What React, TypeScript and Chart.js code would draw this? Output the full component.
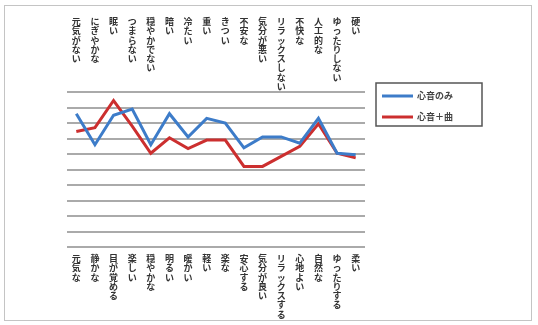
import React, { useEffect, useRef } from "react";
import { Chart, registerables } from "chart.js";
Chart.register(...registerables);

const topLabels = ["元気がない","にぎやかな","眠い","つまらない","穏やかでない","暗い","冷たい","重い","きつい","不安な","気分が悪い","リラックスしない","不快な","人工的な","ゆったりしない","硬い"];
const bottomLabels = ["元気な","静かな","目が覚める","楽しい","穏やかな","明るい","暖かい","軽い","楽な","安心する","気分が良い","リラックスする","心地よい","自然な","ゆったりする","柔い"];
const seriesNames = ["心音のみ","心音＋曲"];
const heartOnly = [8.6, 6.6, 8.5, 8.9, 6.6, 8.6, 7.1, 8.3, 8.0, 6.4, 7.1, 7.1, 6.7, 8.3, 6.05, 5.95];
const heartMusic = [7.45, 7.7, 9.45, 7.8, 6.05, 7.05, 6.35, 6.9, 6.9, 5.2, 5.2, 5.85, 6.5, 7.95, 6.05, 5.75];
const seriesColors = ["#3d7cc9", "#cc2f2f"];

const FONT = '"Noto Sans CJK JP", "Noto Sans", sans-serif';

const verticalLabels = {
  id: "verticalLabels",
  afterDraw(chart: any) {
    const ctx = chart.ctx;
    const xs = chart.scales.x;
    ctx.save();
    ctx.fillStyle = "#333";
    ctx.font = `bold 9px ${FONT}`;
    ctx.textAlign = "center";
    ctx.textBaseline = "top";
    const step = 9.3;
    topLabels.forEach((lab, i) => {
      const x = xs.getPixelForValue(i);
      Array.from(lab).forEach((ch, k) => ctx.fillText(ch, x, 17 + k * step));
    });
    const yb = chart.chartArea.bottom + 7;
    bottomLabels.forEach((lab, i) => {
      const x = xs.getPixelForValue(i);
      Array.from(lab).forEach((ch, k) => ctx.fillText(ch, x, yb + k * step));
    });
    ctx.restore();
  },
};

const boxLegend = {
  id: "boxLegend",
  afterDraw(chart: any) {
    const ctx = chart.ctx;
    ctx.save();
    ctx.strokeStyle = "#c4c4c4";
    ctx.lineWidth = 1;
    ctx.strokeRect(4.5, 5.5, 527, 315);
    const bx = 376, by = 83, bw = 106, bh = 43;
    ctx.strokeStyle = "#555";
    ctx.lineWidth = 1.5;
    ctx.strokeRect(bx, by, bw, bh);
    ctx.font = `bold 9px ${FONT}`;
    ctx.textBaseline = "middle";
    ctx.textAlign = "left";
    chart.data.datasets.forEach((ds: any, i: number) => {
      const y = by + 13 + i * 21;
      ctx.strokeStyle = ds.borderColor;
      ctx.lineWidth = 3;
      ctx.beginPath();
      ctx.moveTo(bx + 6, y);
      ctx.lineTo(bx + 37, y);
      ctx.stroke();
      ctx.fillStyle = "#444";
      ctx.fillText(ds.label, bx + 41, y);
    });
    ctx.restore();
  },
};

export default function App() {
  const ref = useRef<HTMLCanvasElement>(null);
  useEffect(() => {
    document.body.style.margin = "0";
    const chart = new Chart(ref.current!, {
      type: "line",
      data: {
        labels: bottomLabels,
        datasets: [
          { label: seriesNames[0], data: heartOnly, borderColor: seriesColors[0], backgroundColor: seriesColors[0], borderWidth: 3, pointRadius: 0, tension: 0 },
          { label: seriesNames[1], data: heartMusic, borderColor: seriesColors[1], backgroundColor: seriesColors[1], borderWidth: 3, pointRadius: 0, tension: 0 },
        ],
      },
      options: {
        responsive: false,
        animation: false,
        layout: { padding: { left: 67, right: 173, top: 92, bottom: 78 } },
        plugins: { legend: { display: false }, tooltip: { enabled: false } },
        scales: {
          x: { display: false, offset: true },
          y: {
            min: 0,
            max: 10,
            ticks: { display: false, stepSize: 1 },
            grid: { color: "#aaaaaa", lineWidth: 2, drawTicks: false },
            border: { display: false },
          },
        },
      },
      plugins: [verticalLabels, boxLegend],
    });
    return () => chart.destroy();
  }, []);
  return <canvas ref={ref} width={538} height={325} style={{ display: "block", width: 538, height: 325, background: "#fff" }} />;
}
